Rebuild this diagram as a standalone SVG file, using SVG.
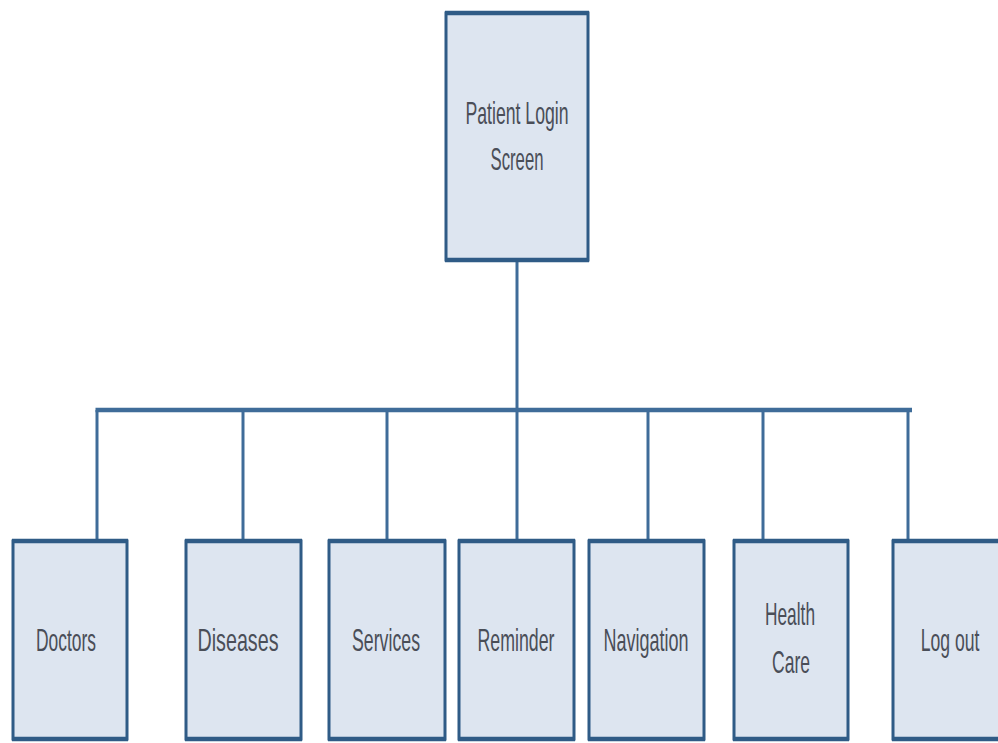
<svg xmlns="http://www.w3.org/2000/svg" width="998" height="743" viewBox="0 0 998 743">
<style>
.box{fill:#dde5f0;stroke:#2f5b86;stroke-width:3}
.edge{stroke:#2f5b86;stroke-width:4.5}
.lbl{font-family:"Liberation Sans",Arial,sans-serif;font-size:32px;fill:#4a4e58;text-anchor:middle}
.conn{stroke:#3f6c99;stroke-width:3;fill:none}
.bus{stroke:#3f6c99;stroke-width:4.5;fill:none}
</style>
<rect width="998" height="743" fill="#ffffff"/>
<g id="connectors">
<line class="conn" x1="517" y1="262" x2="517" y2="410"/>
<line class="bus" x1="95.5" y1="410" x2="912" y2="410"/>
<line class="conn" x1="97" y1="410" x2="97" y2="540"/>
<line class="conn" x1="243" y1="410" x2="243" y2="540"/>
<line class="conn" x1="387" y1="410" x2="387" y2="540"/>
<line class="conn" x1="517" y1="410" x2="517" y2="540"/>
<line class="conn" x1="648" y1="410" x2="648" y2="540"/>
<line class="conn" x1="763" y1="410" x2="763" y2="540"/>
<line class="conn" x1="908" y1="410" x2="908" y2="540"/>
</g>
<g id="patient-login">
<rect class="box" x="446" y="13" width="142" height="247"/>
<line class="edge" x1="445" y1="13" x2="589" y2="13"/>
<line class="edge" x1="445" y1="260" x2="589" y2="260"/>
<text class="lbl" x="517" y="124" textLength="103" lengthAdjust="spacingAndGlyphs">Patient Login</text>
<text class="lbl" x="517" y="170" textLength="53" lengthAdjust="spacingAndGlyphs">Screen</text>
</g>
<g id="doctors">
<rect class="box" x="13" y="541" width="114" height="198"/>
<line class="edge" x1="12" y1="541" x2="128" y2="541"/>
<line class="edge" x1="12" y1="739" x2="128" y2="739"/>
<text class="lbl" x="66" y="651" textLength="60" lengthAdjust="spacingAndGlyphs">Doctors</text>
</g>
<g id="diseases">
<rect class="box" x="186" y="541" width="115" height="198"/>
<line class="edge" x1="185" y1="541" x2="302" y2="541"/>
<line class="edge" x1="185" y1="739" x2="302" y2="739"/>
<text class="lbl" x="238" y="651" textLength="81" lengthAdjust="spacingAndGlyphs">Diseases</text>
</g>
<g id="services">
<rect class="box" x="329" y="541" width="116" height="198"/>
<line class="edge" x1="328" y1="541" x2="446" y2="541"/>
<line class="edge" x1="328" y1="739" x2="446" y2="739"/>
<text class="lbl" x="386" y="651" textLength="68" lengthAdjust="spacingAndGlyphs">Services</text>
</g>
<g id="reminder">
<rect class="box" x="459" y="541" width="115" height="198"/>
<line class="edge" x1="458" y1="541" x2="575" y2="541"/>
<line class="edge" x1="458" y1="739" x2="575" y2="739"/>
<text class="lbl" x="516" y="651" textLength="77" lengthAdjust="spacingAndGlyphs">Reminder</text>
</g>
<g id="navigation">
<rect class="box" x="589" y="541" width="115" height="198"/>
<line class="edge" x1="588" y1="541" x2="705" y2="541"/>
<line class="edge" x1="588" y1="739" x2="705" y2="739"/>
<text class="lbl" x="646" y="651" textLength="85" lengthAdjust="spacingAndGlyphs">Navigation</text>
</g>
<g id="health-care">
<rect class="box" x="734" y="541" width="114" height="198"/>
<line class="edge" x1="733" y1="541" x2="849" y2="541"/>
<line class="edge" x1="733" y1="739" x2="849" y2="739"/>
<text class="lbl" x="790" y="625" textLength="50" lengthAdjust="spacingAndGlyphs">Health</text>
<text class="lbl" x="791" y="673" textLength="38" lengthAdjust="spacingAndGlyphs">Care</text>
</g>
<g id="log-out">
<rect class="box" x="893" y="541" width="114" height="198"/>
<line class="edge" x1="892" y1="541" x2="1008" y2="541"/>
<line class="edge" x1="892" y1="739" x2="1008" y2="739"/>
<text class="lbl" transform="translate(950 651) scale(0.55 1)" x="0" y="0">Log out</text>
</g>
</svg>
